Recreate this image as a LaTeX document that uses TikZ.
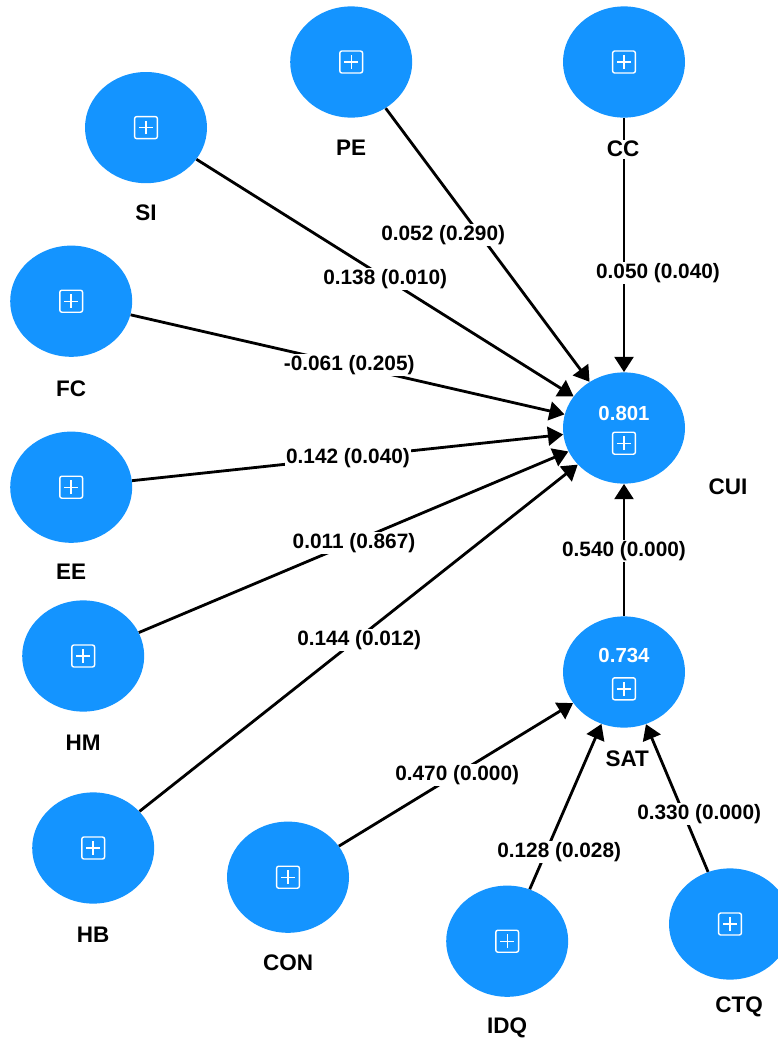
\documentclass[tikz,border=0pt]{standalone}
\usepackage{fontspec}
\setmainfont{Liberation Sans}
\usetikzlibrary{shapes.geometric,arrows.meta}
\definecolor{plsblue}{RGB}{20,148,255}
\begin{document}
\begin{tikzpicture}[
  latent/.style={ellipse,fill=plsblue,minimum width=3.05cm,minimum height=2.78cm,inner sep=0},
  plusbox/.style={draw=white,line width=1pt,rounded corners=1.5pt,minimum width=0.57cm,minimum height=0.55cm,inner sep=0,
    path picture={\draw [white,line width=1pt] ([xshift=-0.17cm]path picture bounding box.center) -- ([xshift=0.17cm]path picture bounding box.center) ([yshift=-0.17cm]path picture bounding box.center) -- ([yshift=0.17cm]path picture bounding box.center);}},
  arr/.style={line width=2pt,-{Triangle[length=0.38cm,width=0.47cm]}},
  lvname/.style={fill=white,inner sep=1pt,font=\fontsize{16pt}{18pt}\selectfont\bfseries},
  coef/.style={fill=white,inner sep=1pt,font=\fontsize{14.8pt}{17pt}\selectfont\bfseries},
  rsq/.style={text=white,inner sep=0,font=\fontsize{14.5pt}{17pt}\selectfont\bfseries}
]
\useasboundingbox (0, 0) rectangle (19.45, -26);
\fill [white] (0, 0) rectangle (19.45, -26);

% constructs
\node [latent] (SI) at (3.65, -3.19) {};
\node [latent] (PE) at (8.78, -1.55) {};
\node [latent] (CC) at (15.6, -1.55) {};
\node [latent] (FC) at (1.78, -7.53) {};
\node [latent] (EE) at (1.78, -12.18) {};
\node [latent] (HM) at (2.08, -16.4) {};
\node [latent] (HB) at (2.33, -21.2) {};
\node [latent] (CUI) at (15.6, -10.7) {};
\node [latent] (SAT) at (15.6, -16.8) {};
\node [latent] (CON) at (7.2, -21.93) {};
\node [latent] (IDQ) at (12.68, -23.53) {};
\node [latent] (CTQ) at (18.25, -23.1) {};

% icons and R squared
\node [plusbox] (iSI) at (SI) {};
\node [plusbox] (iPE) at (PE) {};
\node [plusbox] (iCC) at (CC) {};
\node [plusbox] (iFC) at (FC) {};
\node [plusbox] (iEE) at (EE) {};
\node [plusbox] (iHM) at (HM) {};
\node [plusbox] (iHB) at (HB) {};
\node [plusbox] (iCON) at (CON) {};
\node [plusbox] (iIDQ) at (IDQ) {};
\node [plusbox] (iCTQ) at (CTQ) {};
\node [plusbox] (iCUI) at (15.6, -11.08) {};
\node [plusbox] (iSAT) at (15.6, -17.22) {};
\node [rsq] (vCUI) at (15.6, -10.33) {0.801};
\node [rsq] (vSAT) at (15.6, -16.38) {0.734};

% paths
\draw [arr] (PE) -- (CUI);
\draw [arr] (SI) -- (CUI);
\draw [arr] (FC) -- (CUI);
\draw [arr] (EE) -- (CUI);
\draw [arr] (HM) -- (CUI);
\draw [arr] (HB) -- (CUI);
\draw [arr] (CC) -- (CUI);
\draw [arr] (SAT) -- (CUI);
\draw [arr] (CON) -- (SAT);
\draw [arr] (IDQ) -- (SAT);
\draw [arr] (CTQ) -- (SAT);

% path coefficients
\node [coef] (wPE) at (11.08, -5.88) {0.052 (0.290)};
\node [coef] (wSI) at (9.63, -6.98) {0.138 (0.010)};
\node [coef] (wFC) at (8.73, -9.13) {-0.061 (0.205)};
\node [coef] (wEE) at (8.7, -11.45) {0.142 (0.040)};
\node [coef] (wHM) at (8.85, -13.58) {0.011 (0.867)};
\node [coef] (wHB) at (8.98, -16.0) {0.144 (0.012)};
\node [coef] (wCC) at (16.45, -6.83) {0.050 (0.040)};
\node [coef] (wSAT) at (15.6, -13.78) {0.540 (0.000)};
\node [coef] (wCON) at (11.43, -19.38) {0.470 (0.000)};
\node [coef] (wIDQ) at (13.98, -21.3) {0.128 (0.028)};
\node [coef] (wCTQ) at (17.48, -20.35) {0.330 (0.000)};

% construct names
\node [lvname] (lSI) at (3.65, -5.33) {SI};
\node [lvname] (lPE) at (8.78, -3.7) {PE};
\node [lvname] (lCC) at (15.58, -3.73) {CC};
\node [lvname] (lFC) at (1.78, -9.73) {FC};
\node [lvname] (lEE) at (1.78, -14.3) {EE};
\node [lvname] (lHM) at (2.08, -18.58) {HM};
\node [lvname] (lHB) at (2.33, -23.38) {HB};
\node [lvname] (lCUI) at (18.2, -12.18) {CUI};
\node [lvname] (lSAT) at (15.68, -18.98) {SAT};
\node [lvname] (lCON) at (7.2, -24.08) {CON};
\node [lvname] (lIDQ) at (12.68, -25.7) {IDQ};
\node [lvname] (lCTQ) at (18.48, -25.18) {CTQ};
\end{tikzpicture}
\end{document}
